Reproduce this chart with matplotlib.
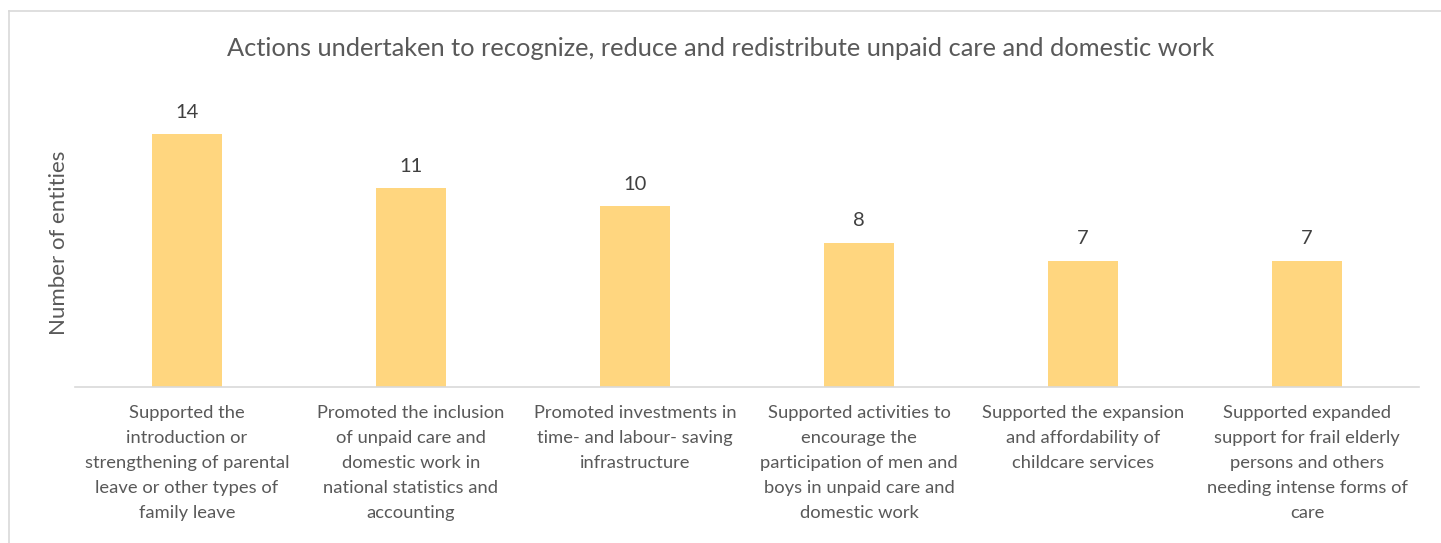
import matplotlib
matplotlib.use('Agg')
import matplotlib.pyplot as plt
from matplotlib.lines import Line2D

plt.rcParams['font.family'] = ['Lato', 'DejaVu Sans']

# chart data
categories = [
    'Supported the\nintroduction or\nstrengthening of parental\nleave or other types of\nfamily leave',
    'Promoted the inclusion\nof unpaid care and\ndomestic work in\nnational statistics and\naccounting',
    'Promoted investments in\ntime- and labour- saving\ninfrastructure',
    'Supported activities to\nencourage the\nparticipation of men and\nboys in unpaid care and\ndomestic work',
    'Supported the expansion\nand affordability of\nchildcare services',
    'Supported expanded\nsupport for frail elderly\npersons and others\nneeding intense forms of\ncare',
]
values = [14, 11, 10, 8, 7, 7]

title = 'Actions undertaken to recognize, reduce and redistribute unpaid care and domestic work'
ylabel = 'Number of entities'

text_col = '#595959'
bar_col = '#FFD67F'

fig = plt.figure(figsize=(14.41, 5.43), dpi=100)
ax = fig.add_axes([0.052, 0.2873, 0.9327, 0.532])

x = range(len(values))
bars = ax.bar(x, values, width=0.31, color=bar_col, zorder=2)
for b, v in zip(bars, values):
    ax.text(b.get_x() + b.get_width() / 2, v + 0.75, str(v), ha='center', va='bottom',
            fontsize=14.5, color='#404040')

ax.set_xlim(-0.5, len(values) - 0.5)
ax.set_ylim(0, 16)
ax.set_yticks([])
ax.set_xticks(list(x))
ax.set_xticklabels(categories, fontsize=13.2, color=text_col, linespacing=1.7)
ax.tick_params(axis='x', length=0, pad=13)
for s in ['top', 'right', 'left']:
    ax.spines[s].set_visible(False)
ax.spines['bottom'].set_color('#D9D9D9')
ax.spines['bottom'].set_linewidth(1.2)

ax.set_ylabel(ylabel, fontsize=16, color=text_col, labelpad=4)
fig.text(0.5, 0.91, title, ha='center', va='center', fontsize=18.3, color=text_col)

# chart border
fig.add_artist(Line2D([9 / 1441, 1.0], [1 - 11 / 543, 1 - 11 / 543], color='#D9D9D9', lw=1.2,
                      transform=fig.transFigure))
fig.add_artist(Line2D([9 / 1441, 9 / 1441], [0, 1 - 11 / 543], color='#D9D9D9', lw=1.2,
                      transform=fig.transFigure))

fig.savefig('out.png', dpi=100)
